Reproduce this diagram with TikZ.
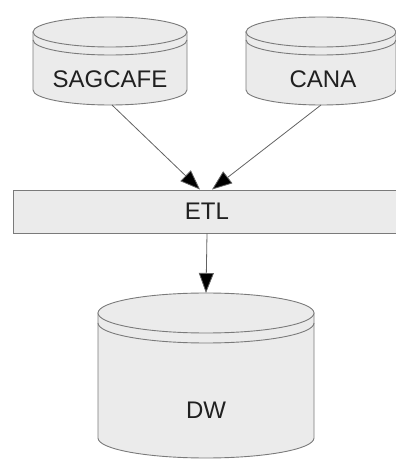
\documentclass[tikz,border=0pt]{standalone}
\usepackage{fontspec}
\setmainfont{Liberation Sans}
\usetikzlibrary{arrows.meta}

\definecolor{shapefill}{HTML}{EBEBEB}
\definecolor{shapeline}{HTML}{7A7A7A}
\definecolor{labelink}{HTML}{202020}

\tikzset{
  dbshape/.style={fill=shapefill, draw=shapeline, line width=0.9pt},
  dbarea/.style={inner sep=0pt, outer sep=0pt},
  labeltext/.style={text=labelink, inner sep=0pt, font=\fontsize{24}{28}\selectfont},
  flow/.style={draw=shapeline!80!black, line width=0.8pt,
    -{Triangle[length=20pt,width=15pt,fill=black]}},
}

% database cylinder: centre x, top-ellipse centre y, bottom-ellipse centre y, rx, ry, rim gap
\newcommand{\dbcyl}[6]{%
  \path[dbshape] (#1-#4,#2) -- (#1-#4,#3)
     arc[start angle=180, end angle=360, x radius=#4, y radius=#5]
     -- (#1+#4,#2) -- cycle;
  \path[dbshape] (#1,#2) ellipse[x radius=#4, y radius=#5];
  \draw[shapeline, line width=0.9pt] (#1-#4,#2-#6)
     arc[start angle=180, end angle=360, x radius=#4, y radius=#5];
}

\begin{document}
\begin{tikzpicture}[x=1pt,y=1pt]
  \useasboundingbox (0,0) rectangle (396,459);

  % source databases
  \dbcyl{110}{427}{369}{77}{15}{8}
  \dbcyl{321}{427}{369}{75}{15}{8}
  \node[dbarea, minimum width=154pt, minimum height=88pt] (sag) at (110,398) {};
  \node[dbarea, minimum width=150pt, minimum height=88pt] (cana) at (321,398) {};
  \node[labeltext] (sagtxt) at (110,380) {SAGCAFE};
  \node[labeltext] (canatxt) at (323,380) {CANA};

  % ETL band
  \node[dbshape, minimum width=388pt, minimum height=43pt, inner sep=0pt,
        text=labelink, font=\fontsize{24}{28}\selectfont] (etl) at (207,247.5) {ETL};

  % warehouse
  \dbcyl{206}{146}{21}{108}{20}{10}
  \node[dbarea, minimum width=216pt, minimum height=165pt] (dw) at (206,83.5) {};
  \node[labeltext] (dwtxt) at (206,49) {DW};

  % flows
  \coordinate (in1) at ([xshift=-7pt]etl.north);
  \coordinate (in2) at ([xshift=5pt]etl.north);
  \draw[flow] ([xshift=2pt]sag.south) -- (in1);
  \draw[flow] (cana.south) -- (in2);
  \draw[flow] (etl.south) -- (dw.north);
\end{tikzpicture}
\end{document}
